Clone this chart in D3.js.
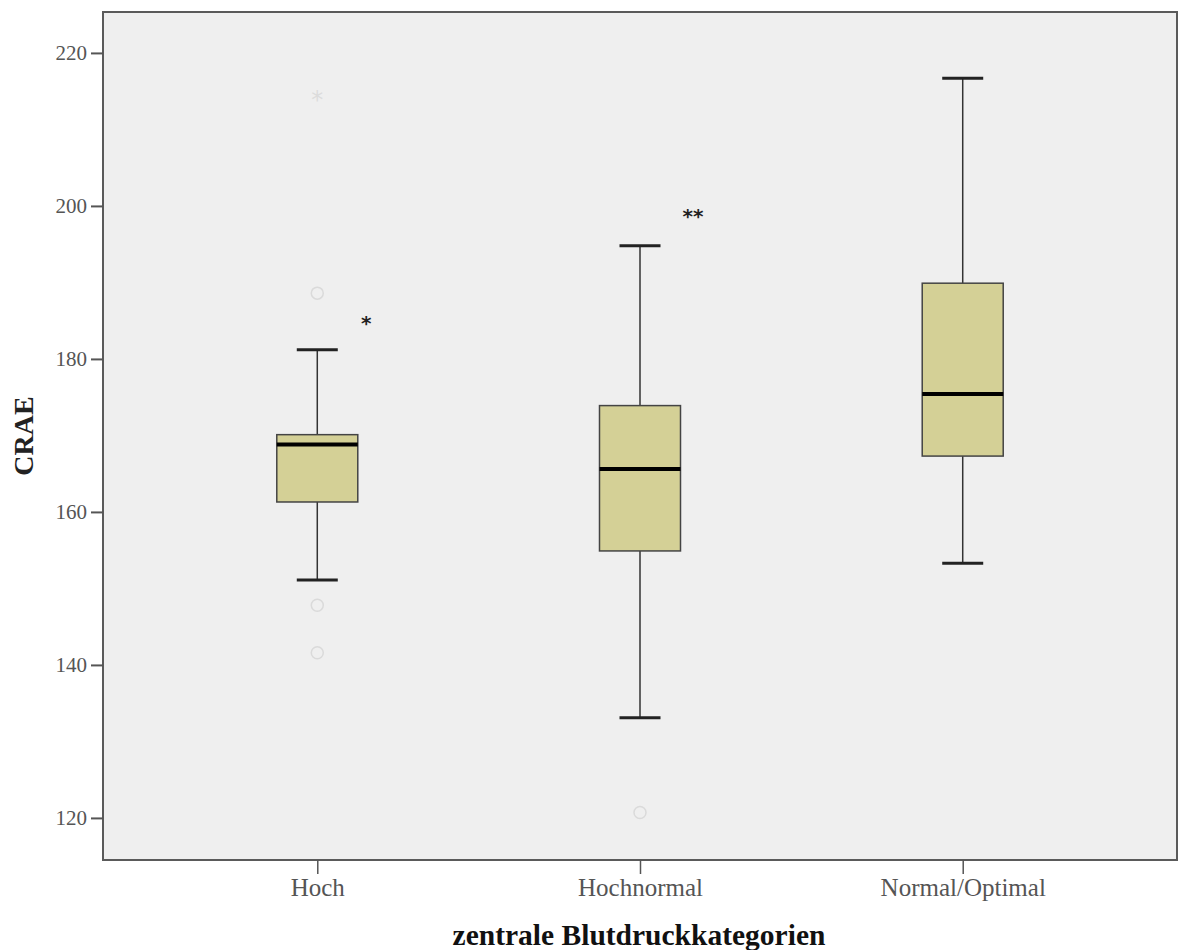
<!DOCTYPE html>
<html><head><meta charset="utf-8">
<script src="https://cdn.jsdelivr.net/npm/d3@7"></script>
<style>body{margin:0;background:#fff}svg{display:block}</style>
</head><body><svg id="c" width="1180" height="950"></svg>
<script>
const categories = ["Hoch", "Hochnormal", "Normal/Optimal"];
const whiskerLow  = [151.1, 133.1, 153.3];
const q1          = [161.3, 154.9, 167.3];
const median      = [168.8, 165.6, 175.4];
const q3          = [170.1, 173.9, 189.9];
const whiskerHigh = [181.2, 194.8, 216.7];
const outlierCat  = ["Hoch", "Hoch", "Hoch", "Hochnormal"];
const outlierVal  = [188.6, 147.8, 141.6, 120.7];
const extremeCat  = ["Hoch"];
const extremeVal  = [214.2];
const markCat     = ["Hoch", "Hochnormal"];
const markVal     = [185, 199];
const markText    = ["*", "**"];
const yTicks      = [120, 140, 160, 180, 200, 220];

const svg = d3.select("#c");
const L = 103, R = 1177, T = 12, B = 860;
const x = d3.scalePoint().domain(categories).range([L, R]).padding(0.664);
const y = d3.scaleLinear().domain([114.5, 225.35]).range([B, T]);
const serif = "'Liberation Serif','Times New Roman',serif";

svg.append("rect").attr("x", L).attr("y", T).attr("width", R - L).attr("height", B - T)
  .attr("fill", "#efefef").attr("stroke", "#5a5a5a").attr("stroke-width", 2);

const yAx = svg.append("g").attr("transform", `translate(${L},0)`)
  .call(d3.axisLeft(y).tickValues(yTicks).tickSize(12).tickPadding(4).tickFormat(d3.format("d")));
yAx.select(".domain").remove();
yAx.selectAll("line").attr("stroke", "#555").attr("stroke-width", 2);
yAx.selectAll("text").attr("font-family", serif).attr("font-size", 21).attr("fill", "#555");

const xAx = svg.append("g").attr("transform", `translate(0,${B})`)
  .call(d3.axisBottom(x).tickSize(14).tickPadding(4));
xAx.select(".domain").remove();
xAx.selectAll("line").attr("stroke", "#555").attr("stroke-width", 1.5);
xAx.selectAll("text").attr("font-family", serif).attr("font-size", 25).attr("fill", "#555");

const bw = 81, cw = 41;
const g = svg.append("g");
categories.forEach((c, i) => {
  const cx = x(c);
  g.append("line").attr("x1", cx).attr("x2", cx).attr("y1", y(whiskerHigh[i])).attr("y2", y(q3[i]))
    .attr("stroke", "#333").attr("stroke-width", 1.5);
  g.append("line").attr("x1", cx).attr("x2", cx).attr("y1", y(q1[i])).attr("y2", y(whiskerLow[i]))
    .attr("stroke", "#333").attr("stroke-width", 1.5);
  [whiskerHigh[i], whiskerLow[i]].forEach(v => {
    g.append("line").attr("x1", cx - cw / 2).attr("x2", cx + cw / 2).attr("y1", y(v)).attr("y2", y(v))
      .attr("stroke", "#222").attr("stroke-width", 3);
  });
  g.append("rect").attr("x", cx - bw / 2).attr("y", y(q3[i])).attr("width", bw)
    .attr("height", y(q1[i]) - y(q3[i])).attr("fill", "#d4d096").attr("stroke", "#444").attr("stroke-width", 1.5);
  g.append("line").attr("x1", cx - bw / 2).attr("x2", cx + bw / 2).attr("y1", y(median[i])).attr("y2", y(median[i]))
    .attr("stroke", "#000").attr("stroke-width", 4);
});

outlierVal.forEach((v, i) => {
  g.append("circle").attr("cx", x(outlierCat[i])).attr("cy", y(v)).attr("r", 6)
    .attr("fill", "none").attr("stroke", "#dadada").attr("stroke-width", 1.5);
});
extremeVal.forEach((v, i) => {
  g.append("text").attr("x", x(extremeCat[i])).attr("y", y(v) + 11).attr("text-anchor", "middle")
    .attr("font-family", "DejaVu Sans").attr("font-size", 24).attr("fill", "#dcdcdc").text("*");
});
markVal.forEach((v, i) => {
  g.append("text").attr("x", x(markCat[i]) + (markText[i].length > 1 ? 53 : 49)).attr("y", y(v) + 9)
    .attr("text-anchor", "middle").attr("font-family", "DejaVu Sans").attr("font-size", 20)
    .attr("font-weight", "bold").attr("fill", "#222").text(markText[i]);
});

svg.append("text").attr("transform", `translate(33,436) rotate(-90)`)
  .attr("text-anchor", "middle").attr("font-family", serif).attr("font-weight", "bold")
  .attr("font-size", 28).attr("fill", "#222").text("CRAE");
svg.append("text").attr("x", 639).attr("y", 945).attr("text-anchor", "middle")
  .attr("font-family", serif).attr("font-weight", "bold").attr("font-size", 29.5)
  .attr("fill", "#111").text("zentrale Blutdruckkategorien");
</script></body></html>
